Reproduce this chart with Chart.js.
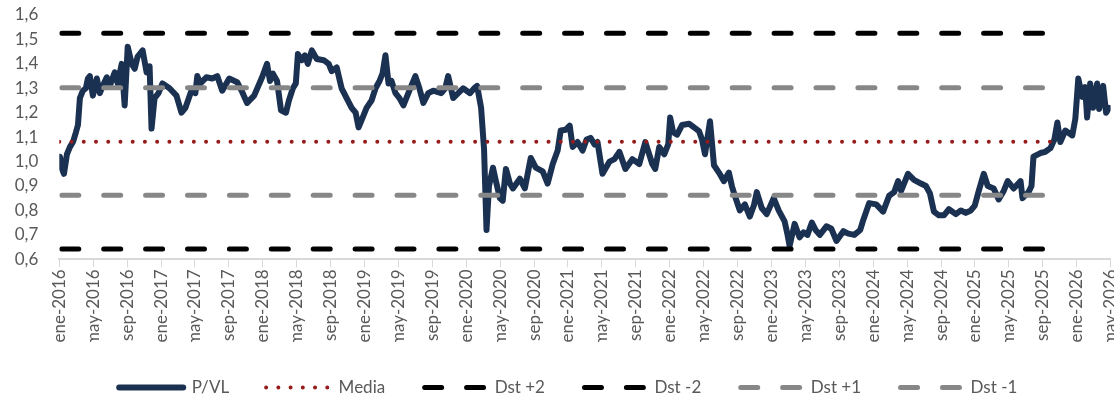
<!DOCTYPE html>
<html><head><meta charset="utf-8">
<script src="https://cdn.jsdelivr.net/npm/chart.js@4.4.1/dist/chart.umd.min.js"></script>
<style>
html,body{margin:0;padding:0;background:#fff;overflow:hidden;width:1114px;height:406px}
#wrap{position:relative;width:1133px;height:406px}
</style>
</head><body>
<div id="wrap"><canvas id="c"></canvas></div>
<script>
// x tick labels (every 4 months from ene-2016)
const tickLabels = ['ene-2016','may-2016','sep-2016','ene-2017','may-2017','sep-2017','ene-2018','may-2018','sep-2018',
  'ene-2019','may-2019','sep-2019','ene-2020','may-2020','sep-2020','ene-2021','may-2021','sep-2021',
  'ene-2022','may-2022','sep-2022','ene-2023','may-2023','sep-2023','ene-2024','may-2024','sep-2024',
  'ene-2025','may-2025','sep-2025','ene-2026','may-2026'];

// P/VL series: month offset from ene-2016, and value
const pvlMonth = [0.08,0.32,0.55,0.9,1.26,1.61,1.96,2.2,2.43,2.78,3.13,3.37,3.6,3.96,4.43,4.78,5.13,5.6,5.95,6.54,6.89,7.36,7.71,8.07,8.54,8.89,9.24,9.83,10.3,10.65,10.88,11.24,11.7,12.17,13.0,13.82,14.41,14.88,15.58,16.05,16.28,16.64,17.34,18.04,18.63,19.22,20.04,20.98,21.57,22.15,22.98,23.92,24.5,24.85,25.2,25.68,26.15,26.73,27.08,27.55,27.9,28.14,28.6,28.96,29.31,29.79,30.37,31.19,31.78,32.13,32.72,33.3,33.89,34.48,34.95,35.3,35.66,36.24,36.83,37.3,37.77,38.12,38.47,38.83,39.18,39.65,40.12,40.59,41.29,42.0,42.47,42.94,43.52,44.11,45.05,45.52,45.87,46.46,47.05,47.63,48.45,48.92,49.28,49.75,50.1,50.39,50.68,51.15,51.5,51.97,52.3,52.68,53.15,53.5,54.32,54.91,55.61,56.2,57.02,57.6,58.2,58.78,59.14,59.72,60.2,60.55,61.13,61.72,62.19,62.66,63.13,63.48,64.07,64.9,65.48,66.06,66.77,67.59,68.41,69.12,69.94,70.29,70.76,71.35,71.82,72.05,72.4,72.87,73.46,74.28,74.87,75.45,75.81,76.16,76.75,77.22,77.8,78.39,78.98,79.33,79.68,80.27,80.86,81.45,81.92,82.27,82.85,83.44,84.26,84.85,85.55,85.9,86.14,86.73,87.31,87.78,88.25,88.76,89.2,89.7,90.48,91.07,91.66,92.48,93.07,93.77,94.47,94.82,95.53,96.35,97.17,97.88,98.47,98.94,99.29,100.1,100.81,101.63,102.22,102.69,103.16,103.75,104.34,104.93,105.75,106.34,106.92,107.51,107.98,108.45,109.04,109.51,110.21,110.8,111.39,111.86,112.56,113.38,113.61,114.32,114.67,114.9,115.72,116.3,116.9,117.37,117.72,118.07,118.66,119.48,119.84,120.19,120.66,121.0,121.23,121.59,121.94,122.41,122.65,123.12,123.47,123.82];
const pvlValue = [1.02,0.97,0.95,1.03,1.06,1.08,1.12,1.15,1.26,1.29,1.30,1.34,1.35,1.27,1.34,1.28,1.31,1.345,1.31,1.365,1.32,1.40,1.23,1.47,1.40,1.38,1.43,1.455,1.365,1.39,1.135,1.26,1.28,1.32,1.30,1.27,1.20,1.22,1.29,1.28,1.35,1.32,1.345,1.34,1.35,1.29,1.34,1.325,1.285,1.24,1.27,1.345,1.40,1.33,1.36,1.33,1.21,1.20,1.25,1.30,1.32,1.44,1.415,1.435,1.40,1.455,1.42,1.415,1.40,1.37,1.385,1.30,1.26,1.22,1.20,1.14,1.17,1.22,1.25,1.30,1.33,1.36,1.435,1.32,1.33,1.28,1.26,1.23,1.29,1.35,1.30,1.24,1.28,1.29,1.28,1.30,1.35,1.26,1.28,1.30,1.28,1.30,1.31,1.22,1.05,0.72,0.90,0.975,0.92,0.85,0.84,0.97,0.91,0.89,0.93,0.89,1.015,0.975,0.96,0.91,0.99,1.045,1.127,1.13,1.147,1.06,1.08,1.045,1.09,1.097,1.07,1.08,0.95,1.0,1.01,1.04,0.97,1.01,0.99,1.08,0.99,0.97,1.06,1.03,1.07,1.18,1.12,1.11,1.15,1.155,1.14,1.125,1.09,1.03,1.165,0.985,0.955,0.92,0.955,0.90,0.86,0.80,0.825,0.775,0.82,0.875,0.81,0.785,0.85,0.80,0.755,0.70,0.655,0.745,0.69,0.71,0.70,0.75,0.72,0.70,0.735,0.725,0.675,0.715,0.705,0.70,0.72,0.76,0.83,0.825,0.795,0.86,0.875,0.92,0.88,0.95,0.925,0.91,0.90,0.87,0.795,0.78,0.78,0.805,0.785,0.80,0.79,0.80,0.82,0.88,0.95,0.90,0.89,0.845,0.88,0.92,0.89,0.92,0.85,0.875,0.90,1.02,1.035,1.04,1.055,1.09,1.16,1.08,1.127,1.107,1.175,1.34,1.265,1.305,1.18,1.32,1.22,1.32,1.215,1.31,1.20,1.22];

// Reference levels and the month where each line ends
const refNames  = ['Media','Dst +2','Dst -2','Dst +1','Dst -1'];
const refLevels = [1.081, 1.525, 0.642, 1.302, 0.862];
const refEnd    = [118.2, 116.2, 116.2, 116.2, 116.2];

const TXT = '#595959';
const FAM = 'Lato';

const pvlData = pvlMonth.map((m, i) => ({x: m, y: pvlValue[i]}));
const refData = refLevels.map((v, i) => [{x: 0, y: v}, {x: refEnd[i], y: v}]);

const dashStyle = {borderDash: [17, 24.9], borderDashOffset: -2.5, borderWidth: 5, borderCapStyle: 'round'};

// shift legend horizontally so it is centred like the original
const legendShift = {
  id: 'legendShift',
  afterLayout(chart) {
    const lg = chart.legend; if (!lg) return;
    const d = 4; lg.left += d; lg.right += d;
  }
};

new Chart(document.getElementById('c'), {
  type: 'line',
  plugins: [legendShift],
  data: {
    datasets: [
      {label: 'P/VL', data: pvlData, borderColor: '#1b3152', backgroundColor: '#1b3152', borderWidth: 6,
       borderJoinStyle: 'round', borderCapStyle: 'round', pointRadius: 0, order: 10},
      {label: refNames[0], data: refData[0], borderColor: '#981b1b', backgroundColor: '#981b1b', borderWidth: 4,
       borderDash: [0, 12.23], borderCapStyle: 'round', pointRadius: 0, order: 1},
      Object.assign({label: refNames[1], data: refData[1], borderColor: '#000000', backgroundColor: '#000000', pointRadius: 0, order: 2}, dashStyle),
      Object.assign({label: refNames[2], data: refData[2], borderColor: '#000000', backgroundColor: '#000000', pointRadius: 0, order: 2}, dashStyle),
      Object.assign({label: refNames[3], data: refData[3], borderColor: '#878787', backgroundColor: '#878787', pointRadius: 0, order: 3}, dashStyle),
      Object.assign({label: refNames[4], data: refData[4], borderColor: '#878787', backgroundColor: '#878787', pointRadius: 0, order: 3}, dashStyle)
    ]
  },
  options: {
    responsive: true,
    maintainAspectRatio: false,
    animation: false,
    layout: {autoPadding: false, padding: {top: 15, left: 0, right: 4.5, bottom: 0}},
    plugins: {
      tooltip: {enabled: false},
      legend: {
        position: 'bottom',
        labels: {
          usePointStyle: true, pointStyle: 'line', pointStyleWidth: 64,
          padding: 37, font: {family: FAM, size: 17}, color: TXT,
          sort: (a, b) => a.datasetIndex - b.datasetIndex,
          generateLabels: chart => {
            const items = Chart.defaults.plugins.legend.labels.generateLabels(chart);
            items.forEach(it => {
              const ds = chart.data.datasets[it.datasetIndex];
              it.lineDash = ds.borderDash || [];
              it.lineDashOffset = ds.borderDashOffset || 0;
              it.lineCap = ds.borderCapStyle || 'butt';
              it.lineWidth = ds.borderWidth;
              it.strokeStyle = ds.borderColor;
              it.fillStyle = ds.borderColor;
              it.pointStyle = 'line';
            });
            return items;
          }
        }
      }
    },
    scales: {
      x: {
        type: 'linear', min: 0, max: 124,
        afterFit: s => { s.height = 82.7; },
        ticks: {stepSize: 4, autoSkip: false, maxRotation: 90, minRotation: 90, font: {family: FAM, size: 17}, color: TXT, padding: 2,
                callback: v => tickLabels[Math.round(v / 4)]},
        grid: {display: true, drawOnChartArea: false, drawTicks: true, tickLength: 8, color: '#d9d9d9', lineWidth: 1},
        border: {display: true, color: '#d9d9d9', width: 2}
      },
      y: {
        min: 0.6, max: 1.6,
        afterFit: s => { s.width = 59.3; },
        ticks: {stepSize: 0.1, font: {family: FAM, size: 17}, color: TXT, padding: 2,
                callback: v => v.toFixed(1).replace('.', ',')},
        grid: {display: false, drawTicks: true, tickLength: 19},
        border: {display: false}
      }
    }
  }
});
</script>
</body></html>
